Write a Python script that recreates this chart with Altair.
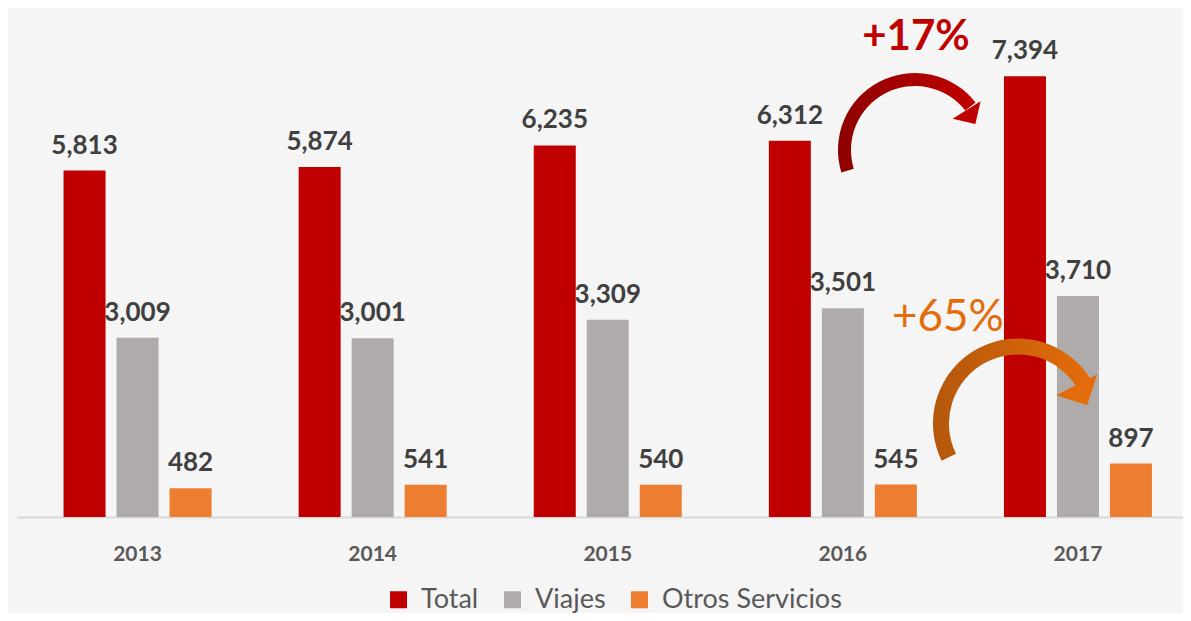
import altair as alt
import pandas as pd

# ---- data ----
years = ["2013", "2014", "2015", "2016", "2017"]
series = ["Total", "Viajes", "Otros Servicios"]
total = [5813, 5874, 6235, 6312, 7394]
viajes = [3009, 3001, 3309, 3501, 3710]
otros = [482, 541, 540, 545, 897]
colors = ["#c00000", "#afabab", "#ed7d31"]
growth_labels = ["+17%", "+65%"]

rows = []
for i, yr in enumerate(years):
    for s, vals in zip(series, [total, viajes, otros]):
        rows.append({"year": yr, "serie": s, "value": vals[i]})
df = pd.DataFrame(rows)

W, H = 1166, 509
FONT = "Lato"

x = alt.X(
    "year:N",
    sort=years,
    scale=alt.Scale(paddingInner=0.3705, paddingOuter=0.165, align=0.6),
    axis=alt.Axis(
        title=None, labelFont=FONT, labelFontWeight="bold", labelFontSize=21,
        labelColor="#595959", labelAngle=0, ticks=False, labelPadding=26,
        domainColor="#d9d9d9", domainWidth=2, grid=False,
    ),
)
y = alt.Y("value:Q", scale=alt.Scale(domain=[0, 8540], nice=False, zero=True), axis=None)
xoff = alt.XOffset("serie:N", sort=series, scale=alt.Scale(paddingInner=0.2075, paddingOuter=0))
color = alt.Color(
    "serie:N",
    sort=series,
    scale=alt.Scale(domain=series, range=colors),
    legend=alt.Legend(
        title=None, orient="none", legendX=368, legendY=578, direction="horizontal",
        symbolType="square", symbolSize=289, symbolStrokeWidth=0,
        labelFont=FONT, labelFontSize=27, labelColor="#595959", labelOffset=9,
        labelLimit=0, columnPadding=20, padding=0,
    ),
)

base = alt.Chart(df)
bars = base.mark_bar().encode(x=x, y=y, xOffset=xoff, color=color)
labels = base.mark_text(
    font=FONT, fontWeight="bold", fontSize=26, color="#404040", dy=-17, baseline="alphabetic"
).encode(x=x, y=y, xOffset=xoff, text=alt.Text("value:Q", format=","))

one = pd.DataFrame({"k": [0]})

red_grad = alt.Gradient(
    gradient="linear", x1=0, y1=0.5, x2=1, y2=0.5,
    stops=[alt.GradientStop(offset=0, color="#8e0000"), alt.GradientStop(offset=1, color="#c00000")],
)
org_grad = alt.Gradient(
    gradient="linear", x1=0, y1=0.5, x2=1, y2=0.5,
    stops=[alt.GradientStop(offset=0, color="#b4570b"), alt.GradientStop(offset=1, color="#e46c0a")],
)

red_arc = alt.Chart(one).mark_arc(fill=red_grad, xOffset=-163).encode(
    x=alt.datum("2017"), y=alt.datum(6158),
    theta=alt.value(4.4157), theta2=alt.value(7.19),
    radius=alt.value(77), radius2=alt.value(64),
)
red_head = alt.Chart(one).mark_point(
    shape="M0,-0.5L1,0.5L-1,0.5Z", size=1089, angle=148, filled=True,
    fill="#c00000", opacity=1, strokeWidth=0, xOffset=-107,
).encode(x=alt.datum("2017"), y=alt.datum(6711))
red_txt = alt.Chart(pd.DataFrame({"t": [growth_labels[0]]})).mark_text(
    font=FONT, fontWeight="bold", fontSize=42, color="#c00000", xOffset=-162,
    align="center", baseline="alphabetic",
).encode(x=alt.datum("2017"), y=alt.datum(7835), text="t:N")

org_arc = alt.Chart(one).mark_arc(fill=org_grad, xOffset=-60).encode(
    x=alt.datum("2017"), y=alt.datum(1570),
    theta=alt.value(4.2586), theta2=alt.value(7.3129),
    radius=alt.value(85), radius2=alt.value(69),
)
org_head = alt.Chart(one).mark_point(
    shape="M0,-0.5L1,0.5L-1,0.5Z", size=2116, angle=153, filled=True,
    fill="#e46c0a", opacity=1, strokeWidth=0, xOffset=4,
).encode(x=alt.datum("2017"), y=alt.datum(2047))
org_txt = alt.Chart(pd.DataFrame({"t": [growth_labels[1]]})).mark_text(
    font=FONT, fontSize=44, color="#e46c0a", xOffset=-130,
    align="center", baseline="alphabetic",
).encode(x=alt.datum("2017"), y=alt.datum(3121), text="t:N")

chart = (
    alt.layer(bars, labels, red_arc, red_head, red_txt, org_arc, org_head, org_txt)
    .properties(
        width=W, height=H,
        padding={"left": 9, "top": 0, "right": 0, "bottom": 96},
        autosize=alt.AutoSizeParams(type="none"),
        background="#f5f5f5",
    )
    .configure_view(strokeWidth=0)
)

chart.save("out.html", embed_options={"renderer": "svg", "actions": False})
